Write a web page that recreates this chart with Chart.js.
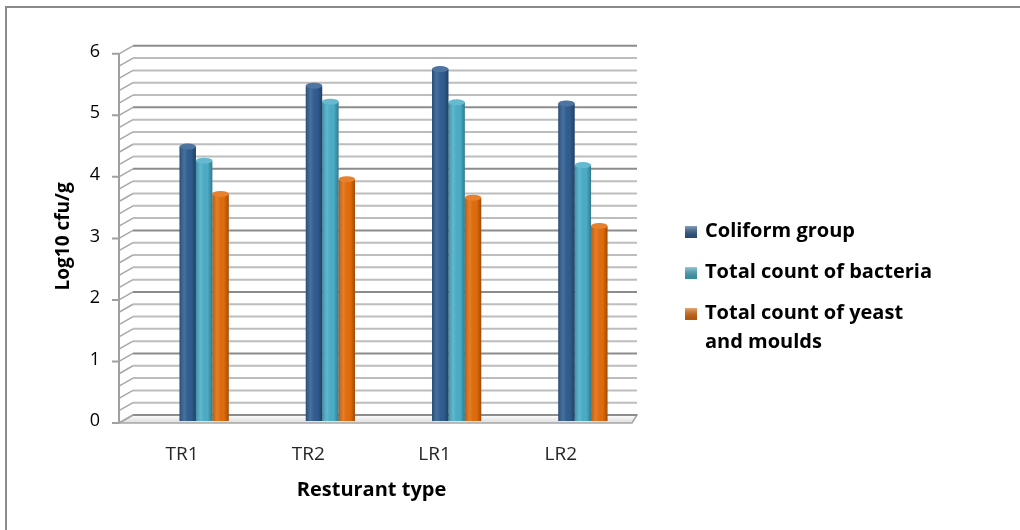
<!DOCTYPE html>
<html>
<head>
<meta charset="utf-8">
<script src="https://cdn.jsdelivr.net/npm/chart.js@4"></script>
<style>
  body { margin: 0; background: #fff; }
  canvas { display: block; }
</style>
</head>
<body>
<canvas id="myChart" width="1020" height="530"></canvas>
<script>
const categories = ["TR1", "TR2", "LR1", "LR2"];
const seriesNames = ["Coliform group", "Total count of bacteria", "Total count of yeast\nand moulds"];
const coliform = [4.46, 5.45, 5.72, 5.16];
const bacteria = [4.23, 5.19, 5.18, 4.16];
const yeastMoulds = [3.69, 3.93, 3.63, 3.17];
const yTicks = [0, 1, 2, 3, 4, 5, 6];
const colors = ["#2f5d90", "#4aaec8", "#e36c0a"];

const FONT = "'Open Sans'";
const DEPTH = 22; // front plane sits this far left of the bars

// back wall, side wall and floor of the 3D box
const wallPlugin = {
  id: "wall3d",
  afterLayout: (chart) => {
    // the label axis belongs to the front plane of the box
    const s = chart.scales.xl;
    s.left -= DEPTH;
    s.right -= DEPTH;
    s.configure();
  },
  beforeDatasetsDraw: (chart) => {
    const { ctx, chartArea } = chart;
    const y = chart.scales.y;
    const fx = chartArea.left - DEPTH;
    const bx0 = chartArea.left - 8;
    const bx1 = chartArea.right - 9;
    const fy = (v) => y.getPixelForValue(v) + 2;
    const by = (v) => y.getPixelForValue(v) - 6;
    ctx.save();
    // floor
    const g = ctx.createLinearGradient(0, by(0), 0, fy(0));
    g.addColorStop(0, "#ffffff");
    g.addColorStop(1, "#dcdcdc");
    ctx.fillStyle = g;
    ctx.beginPath();
    ctx.moveTo(fx, fy(0));
    ctx.lineTo(chartArea.right - 14, fy(0));
    ctx.lineTo(bx1, by(0));
    ctx.lineTo(bx0, by(0));
    ctx.closePath();
    ctx.fill();
    ctx.strokeStyle = "#a6a6a6";
    ctx.lineWidth = 1.5;
    ctx.stroke();
    // grid lines every 0.2
    for (let k = 0; k <= 30; k++) {
      const v = k / 5;
      const major = k % 5 === 0;
      ctx.strokeStyle = major ? "#8c8c8c" : "#bdbdbd";
      ctx.lineWidth = 2;
      ctx.beginPath();
      ctx.moveTo(bx0, by(v));
      ctx.lineTo(bx1, by(v));
      ctx.stroke();
      ctx.strokeStyle = "#a8a8a8";
      ctx.lineWidth = 1.5;
      ctx.beginPath();
      ctx.moveTo(fx, fy(v));
      ctx.lineTo(bx0, by(v));
      ctx.stroke();
    }
    // front axis line and tick marks
    ctx.strokeStyle = "#a0a0a0";
    ctx.lineWidth = 2;
    ctx.beginPath();
    ctx.moveTo(fx, fy(0));
    ctx.lineTo(fx, fy(6));
    yTicks.forEach((t) => {
      ctx.moveTo(fx - 7, fy(t));
      ctx.lineTo(fx, fy(t));
    });
    ctx.stroke();
    ctx.restore();
  },
  afterDatasetsDraw: (chart) => {
    const { ctx } = chart;
    ctx.save();
    chart.data.datasets.forEach((ds, i) => {
      chart.getDatasetMeta(i).data.forEach((bar) => {
        const l = bar.x - bar.width / 2;
        const r = bar.x + bar.width / 2;
        const g = ctx.createLinearGradient(l, 0, r, 0);
        g.addColorStop(0, "rgba(0,0,0,0.18)");
        g.addColorStop(0.3, "rgba(255,255,255,0.12)");
        g.addColorStop(0.7, "rgba(0,0,0,0.0)");
        g.addColorStop(1, "rgba(0,0,0,0.3)");
        ctx.fillStyle = g;
        ctx.fillRect(l, bar.y, bar.width, bar.base - bar.y);
        // cap
        ctx.beginPath();
        ctx.ellipse(bar.x, bar.y, bar.width / 2, 3, 0, 0, Math.PI * 2);
        ctx.fillStyle = colors[i];
        ctx.fill();
        ctx.fillStyle = "rgba(255,255,255,0.15)";
        ctx.fill();
      });
    });
    ctx.restore();
  },
  afterDraw: (chart) => {
    const { ctx } = chart;
    ctx.save();
    // outer frame (top and left)
    ctx.strokeStyle = "#8a8a8a";
    ctx.lineWidth = 2;
    ctx.beginPath();
    ctx.moveTo(6, 530);
    ctx.lineTo(6, 7);
    ctx.lineTo(1020, 7);
    ctx.stroke();
    // legend
    ctx.font = "bold 20px " + FONT;
    ctx.textBaseline = "middle";
    const lx = 685;
    let ly = 231;
    chart.data.datasets.forEach((ds, i) => {
      const lines = ds.label.split("\n");
      const sg = ctx.createLinearGradient(0, ly - 6, 0, ly + 6);
      sg.addColorStop(0, "rgba(255,255,255,0.5)");
      sg.addColorStop(1, "rgba(0,0,0,0.2)");
      ctx.fillStyle = colors[i];
      ctx.fillRect(lx, ly - 5, 12, 12);
      ctx.fillStyle = sg;
      ctx.fillRect(lx, ly - 5, 12, 12);
      ctx.fillStyle = "#000";
      lines.forEach((t, j) => ctx.fillText(t, lx + 20, ly + j * 29));
      ly += 41 + (lines.length - 1) * 29;
    });
    ctx.restore();
  },
};

const ctx = document.getElementById("myChart").getContext("2d");
new Chart(ctx, {
  type: "bar",
  data: {
    labels: categories,
    datasets: [
      { label: seriesNames[0], data: coliform, backgroundColor: colors[0], xAxisID: "x" },
      { label: seriesNames[1], data: bacteria, backgroundColor: colors[1], xAxisID: "x" },
      { label: seriesNames[2], data: yeastMoulds, backgroundColor: colors[2], xAxisID: "x" },
    ],
  },
  plugins: [wallPlugin],
  options: {
    responsive: false,
    animation: false,
    layout: { padding: { left: 50, right: 374, top: 48, bottom: 20 } },
    datasets: {
      bar: { categoryPercentage: 0.39, barPercentage: 1.0 },
    },
    scales: {
      x: {
        display: false,
        offset: true,
      },
      xl: {
        type: "category",
        position: "bottom",
        offset: true,
        grid: { display: false, drawTicks: false },
        border: { display: false },
        ticks: { padding: 22, color: "#262626", font: { family: "Open Sans", size: 19 } },
        title: {
          display: true,
          text: "Resturant type",
          color: "#000",
          font: { family: "Open Sans", size: 20, weight: "bold" },
          padding: { top: 0, bottom: 8 },
        },
        afterFit: (s) => { s.height = 89; },
      },
      y: {
        min: 0,
        max: 6,
        grid: { display: false, drawTicks: false },
        border: { display: false },
        ticks: {
          stepSize: 1,
          padding: 41,
          color: "#000",
          font: { family: "Open Sans", size: 18 },
        },
        title: {
          display: true,
          text: "Log10 cfu/g",
          color: "#000",
          font: { family: "Open Sans", size: 19, weight: "bold" },
          padding: { top: 2, bottom: 0 },
        },
        afterFit: (s) => { s.width = 91; },
      },
    },
    plugins: {
      legend: { display: false },
      tooltip: { enabled: false },
    },
  },
});
</script>
</body>
</html>
